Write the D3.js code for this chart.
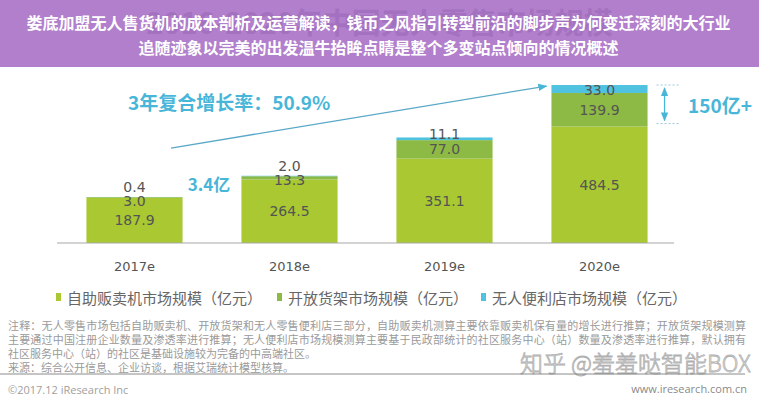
<!DOCTYPE html>
<html>
<head>
<meta charset="utf-8">
<script src="https://cdn.jsdelivr.net/npm/d3@7"></script>
<style>
  body { margin: 0; background: #fff; }
  #chart { width: 759px; height: 400px; }
</style>
</head>
<body>
<div id="chart"></div>
<script>
// Data
const years = ["2017e", "2018e", "2019e", "2020e"];
const vending = [187.9, 264.5, 351.1, 484.5];   // 自助贩卖机
const shelf = [3.0, 13.3, 77.0, 139.9];         // 开放货架
const store = [0.4, 2.0, 11.1, 33.0];           // 无人便利店
const seriesNames = ["自助贩卖机市场规模（亿元）", "开放货架市场规模（亿元）", "无人便利店市场规模（亿元）"];
const bannerLines = [
  "娄底加盟无人售货机的成本剖析及运营解读，钱币之风指引转型前沿的脚步声为何变迁深刻的大行业",
  "追随迹象以完美的出发温牛抬眸点睛是整个多变站点倾向的情况概述"
];
const ghostTitle = "2016-2020年中国无人零售市场规模";
const cagrText = "3年复合增长率：50.9%";
const gapText = "3.4亿";
const deltaText = "150亿+";
const noteLines = [
  "注释：无人零售市场包括自助贩卖机、开放货架和无人零售便利店三部分，自助贩卖机测算主要依靠贩卖机保有量的增长进行推算；开放货架规模测算",
  "主要通过中国注册企业数量及渗透率进行推算；无人便利店市场规模测算主要基于民政部统计的社区服务中心（站）数量及渗透率进行推算，默认拥有",
  "社区服务中心（站）的社区是基础设施较为完备的中高端社区。",
  "来源：综合公开信息、企业访谈，根据艾瑞统计模型核算。"
];

const W = 759, H = 400;
const cjk = "'Noto Sans CJK SC', 'Noto Sans', sans-serif";
const num = "'DejaVu Sans', Verdana, sans-serif";
const colors = ["#a9c832", "#8dba44", "#4fc2e0"];
const cyan = "#48b6d8";

const svg = d3.select("#chart").append("svg")
  .attr("width", W).attr("height", H);

// stack the three series
const rows = years.map((yr, i) => ({ year: yr, vending: vending[i], shelf: shelf[i], store: store[i] }));
const keys = ["vending", "shelf", "store"];
const stacked = d3.stack().keys(keys)(rows);
const totals = rows.map(r => r.vending + r.shelf + r.store);

const x = d3.scaleBand().domain(years).range([57, 677]).paddingInner(0.38).paddingOuter(0.19);
const y = d3.scaleLinear().domain([0, 660]).range([243, 84.4]);
const bw = x.bandwidth();

// ---- banner ----
svg.append("rect").attr("x", 0).attr("y", 0).attr("width", W).attr("height", 67).attr("fill", "#b17fcc");
svg.append("text").attr("x", W / 2).attr("y", 34).attr("text-anchor", "middle")
  .style("font-family", cjk).style("font-size", "29px").style("font-weight", 700)
  .attr("fill", "#a371bf").text(ghostTitle);
bannerLines.forEach((t, i) => {
  svg.append("text").attr("x", W / 2 - 1).attr("y", 22 + i * 25).attr("text-anchor", "middle")
    .attr("dominant-baseline", "central")
    .style("font-family", cjk).style("font-size", "16px").style("font-weight", 700)
    .attr("fill", "#fff").text(t);
});

// ---- bars ----
const layer = svg.append("g").selectAll("g").data(stacked).join("g")
  .attr("fill", (d, i) => colors[i]);
layer.selectAll("rect").data(d => d).join("rect")
  .attr("x", d => x(d.data.year))
  .attr("y", d => y(d[1]))
  .attr("width", bw)
  .attr("height", d => y(d[0]) - y(d[1]));

// baseline
svg.append("line").attr("x1", 57).attr("x2", 674).attr("y1", y(0)).attr("y2", y(0))
  .attr("stroke", "#a8a8a8").attr("stroke-width", 1.2);

// value labels: centred in a segment, nudged near the top when the segment is thin
const labelY = (seg, k) => {
  const top = y(seg[1]), h = y(seg[0]) - y(seg[1]);
  if (k === 0 || h >= 14) return top + h / 2;
  if (k === 1) return top + 4;
  if (h >= 6) return top + h / 2 + 1;
  if (h >= 2.5) return top - 3;
  return top - 10;
};
stacked.forEach((s, k) => {
  svg.append("g").selectAll("text").data(s).join("text")
    .attr("x", d => x(d.data.year) + bw / 2)
    .attr("y", d => labelY(d, k))
    .attr("text-anchor", "middle").attr("dominant-baseline", "central")
    .style("font-family", num).style("font-size", "14px")
    .attr("fill", "#545454")
    .text(d => d.data[keys[k]].toFixed(1));
});

// year labels
svg.append("g").selectAll("text").data(years).join("text")
  .attr("x", d => x(d) + bw / 2).attr("y", 266)
  .attr("text-anchor", "middle").attr("dominant-baseline", "central")
  .style("font-family", num).style("font-size", "13px").attr("fill", "#555")
  .text(d => d);

// ---- annotations ----
const defs = svg.append("defs");
defs.append("marker").attr("id", "arr").attr("viewBox", "0 0 10 10")
  .attr("refX", 9).attr("refY", 5).attr("markerWidth", 7).attr("markerHeight", 7)
  .attr("orient", "auto-start-reverse")
  .append("path").attr("d", "M0,1 L10,5 L0,9 z").attr("fill", cyan);

svg.append("line")
  .attr("x1", x(years[0]) + bw * 0.88).attr("y1", y(totals[0]) - 49)
  .attr("x2", x(years[3]) - 5).attr("y2", y(totals[3]) + 1)
  .attr("stroke", "#5aa8c8").attr("stroke-width", 1.3)
  .attr("marker-end", "url(#arr)");

svg.append("text").attr("x", 128).attr("y", 101).attr("dominant-baseline", "central")
  .style("font-family", cjk).style("font-size", "19px").style("font-weight", 700)
  .attr("fill", cyan).text(cagrText);

svg.append("text")
  .attr("x", (x(years[0]) + bw + x(years[1])) / 2 - 3).attr("y", 183)
  .attr("text-anchor", "middle").attr("dominant-baseline", "central")
  .style("font-family", cjk).style("font-size", "17px").style("font-weight", 700)
  .attr("fill", cyan).text(gapText);

// 2020 bracket
const bx0 = x(years[3]) + bw + 9, bx1 = bx0 + 22, bxm = bx0 + 8;
[y(totals[3]), y(vending[3]) - 3].forEach(v => {
  svg.append("line").attr("x1", bx0).attr("x2", bx1).attr("y1", v).attr("y2", v)
    .attr("stroke", "#9cc8dc").attr("stroke-dasharray", "2,2");
});
svg.append("line").attr("x1", bxm).attr("x2", bxm)
  .attr("y1", y(totals[3]) + 3).attr("y2", y(vending[3]) - 6)
  .attr("stroke", cyan).attr("stroke-width", 1.3)
  .attr("marker-start", "url(#arr)").attr("marker-end", "url(#arr)");
svg.append("text").attr("x", 688).attr("y", 104).attr("dominant-baseline", "central")
  .style("font-family", cjk).style("font-size", "19px").style("font-weight", 700)
  .attr("fill", cyan).text(deltaText);

// ---- legend ----
const legX = [56, 277, 481];
seriesNames.forEach((n, i) => {
  svg.append("rect").attr("x", legX[i]).attr("y", 293).attr("width", 5).attr("height", 8)
    .attr("fill", colors[i]);
  svg.append("text").attr("x", legX[i] + 11).attr("y", 297).attr("dominant-baseline", "central")
    .style("font-family", cjk).style("font-size", "15px").attr("fill", "#666").text(n);
});

// ---- notes ----
noteLines.forEach((t, i) => {
  const tx = svg.append("text").attr("x", 8).attr("y", 325 + i * 14).attr("dominant-baseline", "central")
    .style("font-family", cjk).style("font-size", "11px").attr("fill", "#9a9a9a").text(t);
  if (i < 2) tx.attr("textLength", 738).attr("lengthAdjust", "spacing");
});

// watermark
svg.append("text").attr("x", 520).attr("y", 362).attr("dominant-baseline", "central")
  .style("font-family", cjk).style("font-size", "23px").style("font-weight", 300)
  .attr("fill", "#f4f4f4").attr("stroke", "#b0b0b0").attr("stroke-width", 0.8)
  .text("知乎 @羞羞哒智能BOX");

svg.append("line").attr("x1", 0).attr("x2", 745).attr("y1", 374).attr("y2", 374)
  .attr("stroke", "#8a8a8a").attr("stroke-width", 1);

svg.append("text").attr("x", 8).attr("y", 389).attr("dominant-baseline", "central")
  .style("font-family", "'Open Sans', sans-serif").style("font-size", "11px").attr("fill", "#a0a0a0")
  .text("©2017.12 iResearch Inc");
svg.append("text").attr("x", 747).attr("y", 388).attr("text-anchor", "end").attr("dominant-baseline", "central")
  .style("font-family", "'Open Sans', sans-serif").style("font-size", "11px").attr("fill", "#8a8a8a")
  .text("www.iresearch.com.cn");
</script>
</body>
</html>
